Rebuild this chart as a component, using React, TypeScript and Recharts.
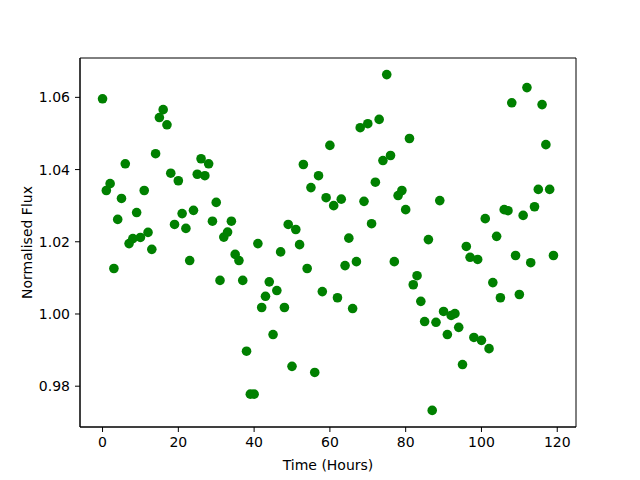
import { ScatterChart, Scatter, XAxis, YAxis, ReferenceArea } from 'recharts'

const hours = Array.from({ length: 120 }, (_, i) => i)

const flux = [
  1.0596, 1.0342, 1.0361, 1.0126, 1.0262, 1.032, 1.0416, 1.0195, 1.0209, 1.0281,
  1.0212, 1.0342, 1.0226, 1.0179, 1.0444, 1.0544, 1.0566, 1.0524, 1.039, 1.0248,
  1.0369, 1.0278, 1.0237, 1.0148, 1.0287, 1.0387, 1.043, 1.0383, 1.0416, 1.0257,
  1.0309, 1.0093, 1.0213, 1.0227, 1.0257, 1.0165, 1.0148, 1.0093, 0.9897, 0.9778,
  0.9778, 1.0195, 1.0018, 1.0049, 1.0089, 0.9943, 1.0065, 1.0172, 1.0018, 1.0248,
  0.9855, 1.0234, 1.0192, 1.0414, 1.0126, 1.035, 0.9838, 1.0383, 1.0062, 1.0322,
  1.0467, 1.03, 1.0045, 1.0318, 1.0134, 1.021, 1.0015, 1.0145, 1.0516, 1.0312,
  1.0527, 1.025, 1.0365, 1.0539, 1.0425, 1.0663, 1.0439, 1.0145, 1.0328, 1.0342,
  1.0289, 1.0486, 1.0081, 1.0106, 1.0035, 0.9979, 1.0206, 0.9733, 0.9977, 1.0314,
  1.0007, 0.9943, 0.9996, 1.0001, 0.9963, 0.986, 1.0187, 1.0157, 0.9935, 1.0151,
  0.9927, 1.0264, 0.9904, 1.0087, 1.0215, 1.0045, 1.0289, 1.0286, 1.0585, 1.0162,
  1.0054, 1.0273, 1.0627, 1.0142, 1.0297, 1.0345, 1.058, 1.0469, 1.0345, 1.0162,
]

const xTicks = [0, 20, 40, 60, 80, 100, 120]
const yTicks = [0.98, 1.0, 1.02, 1.04, 1.06]
const xDomain = [-5.95, 124.95]
const yDomain = [0.9687, 1.0709]

const data = hours.map((h, i) => ({ time: h, flux: flux[i] }))

const font = 'DejaVu Sans, sans-serif'
const tickStyle = { fill: '#000', fontSize: 14, fontFamily: font }

const Dot = (props: any) => <circle cx={props.cx} cy={props.cy} r={4.8} fill="#008000" />

export default function App() {
  return (
    <div style={{ position: 'absolute', left: 0, top: 0, background: '#fff' }}>
      <ScatterChart width={640} height={480} margin={{ top: 58, right: 64, bottom: 0, left: 0 }}>
        <XAxis
          dataKey="time"
          type="number"
          domain={xDomain}
          ticks={xTicks}
          allowDataOverflow
          height={53}
          tickSize={5}
          tickMargin={5}
          stroke="#000"
          tick={tickStyle}
          label={{ value: 'Time (Hours)', position: 'insideBottom', offset: 10, fill: '#000', fontSize: 14, fontFamily: font }}
        />
        <YAxis
          dataKey="flux"
          type="number"
          domain={yDomain}
          ticks={yTicks}
          allowDataOverflow
          width={80}
          tickSize={5}
          tickMargin={5}
          stroke="#000"
          tick={tickStyle}
          tickFormatter={(v: number) => v.toFixed(2)}
          label={{
            content: ({ viewBox }: any) => (
              <text
                x={viewBox.x + 27}
                y={viewBox.y + viewBox.height / 2}
                transform={`rotate(-90, ${viewBox.x + 27}, ${viewBox.y + viewBox.height / 2})`}
                textAnchor="middle"
                dominantBaseline="central"
                fill="#000"
                fontSize={14}
                fontFamily={font}
              >
                Normalised Flux
              </text>
            ),
          }}
        />
        <Scatter data={data} shape={Dot} isAnimationActive={false} />
        <ReferenceArea
          x1={xDomain[0]}
          x2={xDomain[1]}
          y1={yDomain[0]}
          y2={yDomain[1]}
          ifOverflow="visible"
          fill="none"
          fillOpacity={0}
          stroke="#000"
          strokeWidth={1}
        />
      </ScatterChart>
    </div>
  )
}
